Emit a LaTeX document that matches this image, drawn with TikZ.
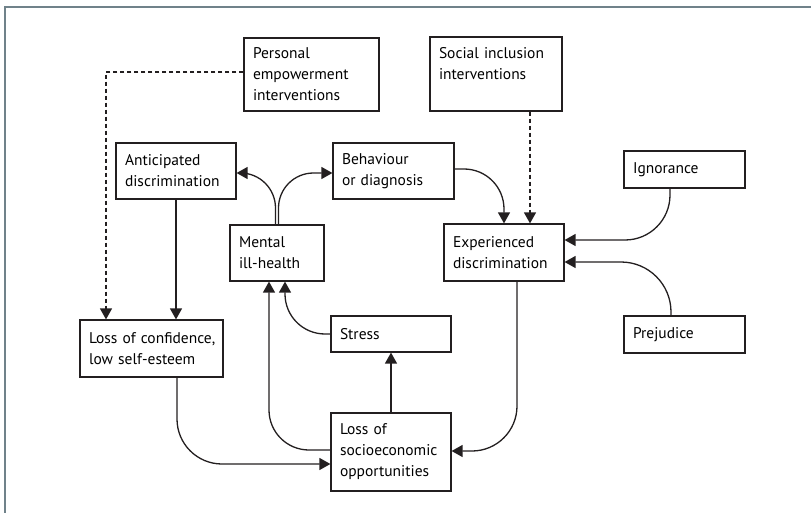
\documentclass[tikz,border=0pt]{standalone}
\usepackage{fontspec}
\setmainfont{PT Sans}
\usetikzlibrary{arrows.meta, calc}
\definecolor{ink}{RGB}{35,31,32}
\definecolor{rule}{RGB}{112,130,138}

\begin{document}
\begin{tikzpicture}[
        x=1pt, y=-1pt,
        font=\fontsize{15.5}{21}\selectfont,
        box/.style 2 args={draw=ink, line width=1.2pt, inner xsep=9pt, inner ysep=0pt,
            align=left, text width=#1, minimum height=#2},
        link/.style={-{Triangle[length=11pt,width=12pt]}, draw=ink, line width=1.3pt, rounded corners=#1},
        link/.default=40pt,
        plan/.style={link, sharp corners, dash pattern=on 4pt off 3pt}
    ]
        \useasboundingbox (0,0) rectangle (811,513);
        \draw[rule, line width=1.5pt] (811,7) -- (5,7) -- (5,513);

        \node[box={117pt}{73pt}] (pers) at (311.5,74.5) {Personal\\empowerment\\interventions};
        \node[box={114pt}{74pt}] (soc) at (496,74) {Social inclusion\\interventions\\\mbox{}};
        \node[box={102pt}{56pt}] (antic) at (176,171) {Anticipated\\discrimination};
        \node[box={103pt}{56pt}] (behav) at (393.5,171) {Behaviour\\or diagnosis};
        \node[box={103pt}{37pt}] (ign) at (684.5,169.5) {Ignorance};
        \node[box={76pt}{56pt}] (mental) at (277,253) {Mental\\ill-health};
        \node[box={102pt}{57pt}] (exper) at (504,252.5) {Experienced\\discrimination};
        \node[box={125pt}{57pt}] (conf) at (151.5,348.5) {\mbox{Loss of confidence,}\\low self-esteem};
        \node[box={102pt}{36pt}] (stress) at (391,334) {Stress};
        \node[box={103pt}{37pt}] (prej) at (684.5,334.5) {Prejudice};
        \node[box={102pt}{78pt}] (socio) at (391,452) {Loss of\\socioeconomic\\opportunities};

        % interventions (dashed)
        \draw[plan] ([yshift=2.5pt]pers.west) -| ([xshift=-45.5pt]conf.north);
        \coordinate (si) at ([xshift=26pt]exper.north);
        \draw[plan] (soc.south -| si) -- (si);

        % causal paths
        \draw[link] (antic.south) -- (antic.south |- conf.north);
        \draw[link=35pt] ([xshift=-1.5pt]mental.north) |- ([yshift=-2pt]antic.east);
        \draw[link=35pt] ([xshift=1.5pt]mental.north) |- ([yshift=-2pt]behav.west);
        \draw[link] ([yshift=2pt]behav.east) -| (exper.north);
        \draw[link=45pt] ([xshift=-14.5pt]ign.south) |- ([yshift=12.5pt]exper.east);
        \draw[link=50pt] ([xshift=-13.5pt]prej.north) |- ([yshift=-9.5pt]exper.east);
        \draw[link=45pt] ([xshift=13pt]exper.south) |- ([yshift=1pt]socio.east);
        \draw[link] (socio.north) -- (stress.south);
        \draw[link] (stress.west) -| ([xshift=8pt]mental.south);
        \draw[link] ([yshift=2pt]socio.west) -| ([xshift=-8pt]mental.south);
        \draw[link=45pt] ([xshift=25.5pt]conf.south) |- ([yshift=-12pt]socio.west);
\end{tikzpicture}
\end{document}
